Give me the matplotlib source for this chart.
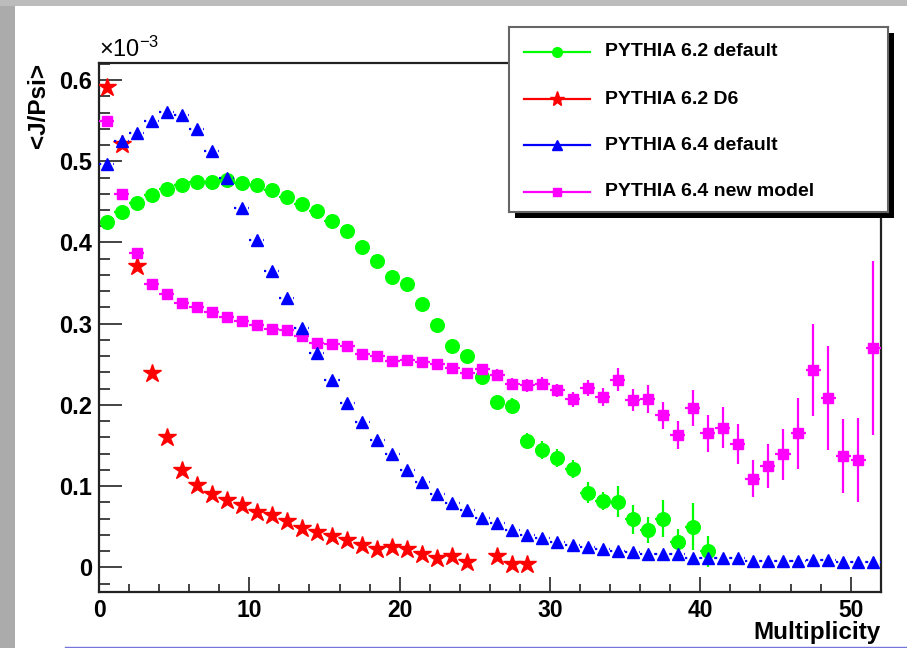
import numpy as np
import matplotlib
matplotlib.use("Agg")
import matplotlib.pyplot as plt
from matplotlib.ticker import MultipleLocator, FuncFormatter
from matplotlib.patches import Rectangle
from matplotlib.lines import Line2D

plt.rcParams["font.family"] = ["Liberation Sans", "DejaVu Sans"]
plt.rcParams["mathtext.fontset"] = "custom"
plt.rcParams["mathtext.rm"] = "Liberation Sans"
plt.rcParams["mathtext.default"] = "regular"

# <J/Psi> per multiplicity bin, in units of 1e-3
SCALE = 1e-3
multiplicity = np.arange(0.5, 52.0, 1.0)          # bin centres, 52 bins of width 1
bin_half_width = 0.5

pythia62_default = [0.425, 0.438, 0.449, 0.459, 0.466, 0.471, 0.474, 0.474, 0.477, 0.473,
                    0.471, 0.465, 0.456, 0.447, 0.439, 0.427, 0.414, 0.394, 0.377, 0.358,
                    0.349, 0.324, 0.299, 0.273, 0.260, 0.234, 0.204, 0.199, 0.156, 0.144,
                    0.135, 0.121, 0.092, 0.082, 0.081, 0.059, 0.046, 0.060, 0.031, 0.050,
                    0.020]
pythia62_default_err = [0.003, 0.003, 0.003, 0.003, 0.003, 0.003, 0.003, 0.003, 0.003, 0.003,
                        0.003, 0.003, 0.003, 0.003, 0.003, 0.003, 0.003, 0.004, 0.004, 0.004,
                        0.004, 0.004, 0.005, 0.005, 0.005, 0.006, 0.008, 0.009, 0.010, 0.011,
                        0.011, 0.011, 0.013, 0.011, 0.019, 0.018, 0.016, 0.023, 0.016, 0.029,
                        0.019]

pythia62_d6 = [0.592, 0.521, 0.371, 0.239, 0.160, 0.120, 0.101, 0.090, 0.083, 0.077,
               0.068, 0.065, 0.057, 0.049, 0.044, 0.039, 0.034, 0.028, 0.022, 0.025,
               0.022, 0.016, 0.012, 0.014, 0.007, np.nan, 0.014, 0.004, 0.004]

pythia64_default = [0.497, 0.525, 0.535, 0.549, 0.561, 0.557, 0.540, 0.513, 0.479, 0.442,
                    0.403, 0.365, 0.332, 0.295, 0.264, 0.231, 0.202, 0.179, 0.157, 0.139,
                    0.120, 0.105, 0.090, 0.079, 0.070, 0.061, 0.054, 0.046, 0.040, 0.036,
                    0.031, 0.028, 0.025, 0.022, 0.020, 0.019, 0.017, 0.016, 0.016, 0.012,
                    0.012, 0.012, 0.012, 0.008, 0.008, 0.008, 0.008, 0.009, 0.009, 0.006,
                    0.007, 0.007]

pythia64_new = [0.550, 0.460, 0.387, 0.349, 0.336, 0.326, 0.321, 0.314, 0.308, 0.303,
                0.298, 0.293, 0.292, 0.285, 0.276, 0.275, 0.273, 0.263, 0.260, 0.254,
                0.255, 0.253, 0.251, 0.245, 0.239, 0.244, 0.237, 0.226, 0.224, 0.226,
                0.218, 0.207, 0.221, 0.210, 0.231, 0.206, 0.207, 0.187, 0.163, 0.196,
                0.165, 0.172, 0.152, 0.109, 0.125, 0.139, 0.165, 0.243, 0.209, 0.137,
                0.132, 0.270]
pythia64_new_err = [0.002, 0.002, 0.002, 0.003, 0.003, 0.003, 0.003, 0.003, 0.003, 0.003,
                    0.003, 0.003, 0.004, 0.004, 0.004, 0.004, 0.004, 0.005, 0.005, 0.005,
                    0.005, 0.005, 0.006, 0.006, 0.006, 0.007, 0.007, 0.007, 0.008, 0.008,
                    0.008, 0.009, 0.010, 0.011, 0.014, 0.014, 0.017, 0.017, 0.017, 0.022,
                    0.023, 0.025, 0.025, 0.023, 0.027, 0.031, 0.044, 0.057, 0.064, 0.046,
                    0.052, 0.107]

labels = ["PYTHIA 6.2 default", "PYTHIA 6.2 D6", "PYTHIA 6.4 default", "PYTHIA 6.4 new model"]
colors = ["#00ff00", "#ff0000", "#0000ff", "#ff00ff"]
markers = ["o", "*", "^", "s"]

W, H = 907, 648


def fx(px):
    return px / W


def fy(py):
    return 1 - py / H


fig = plt.figure(figsize=(W / 100, H / 100), dpi=100)
fig.patch.set_facecolor("white")

# slide frame around the canvas
fig.patches.append(Rectangle((0, 0), fx(15), 1, transform=fig.transFigure,
                             facecolor="#ababab", edgecolor="none", zorder=-1))
fig.patches.append(Rectangle((0, fy(6)), 1, 1 - fy(6), transform=fig.transFigure,
                             facecolor="#bcbcbc", edgecolor="none", zorder=-1))
fig.add_artist(Line2D([fx(65), 1], [fy(646.5), fy(646.5)], transform=fig.transFigure,
                      color="#7474dc", lw=1.0))

ax = fig.add_axes([fx(99), fy(591.7), fx(880.7) - fx(99), fy(62.7) - fy(591.7)])


def scaled(vals):
    return np.asarray(vals, dtype=float) * SCALE


# green: PYTHIA 6.2 default
n = len(pythia62_default)
ax.errorbar(multiplicity[:n], scaled(pythia62_default), xerr=bin_half_width,
            yerr=scaled(pythia62_default_err), fmt="o", color=colors[0], ms=9.8,
            elinewidth=1.6, capsize=0, zorder=2)

# red: PYTHIA 6.2 D6
n = len(pythia62_d6)
ax.plot(multiplicity[:n], scaled(pythia62_d6), linestyle="none", marker="*",
        color=colors[1], ms=13.5, zorder=3)

# magenta: PYTHIA 6.4 new model
ax.errorbar(multiplicity, scaled(pythia64_new), xerr=bin_half_width,
            yerr=scaled(pythia64_new_err), fmt="s", color=colors[3], ms=7,
            elinewidth=1.6, capsize=0, zorder=4)

# blue: PYTHIA 6.4 default, bin widths drawn dotted
eb = ax.errorbar(multiplicity, scaled(pythia64_default), xerr=bin_half_width,
                 fmt="^", color=colors[2], ms=8, elinewidth=1.6, capsize=0, zorder=5)
eb.lines[2][0].set_linestyle((0, (1, 2.2)))

ax.set_xlim(0, 52)
ax.set_ylim(-0.030 * SCALE, 0.6214 * SCALE)

ax.xaxis.set_major_locator(MultipleLocator(10))
ax.xaxis.set_minor_locator(MultipleLocator(2))
ax.yaxis.set_major_locator(MultipleLocator(0.1 * SCALE))
ax.yaxis.set_minor_locator(MultipleLocator(0.02 * SCALE))
ax.yaxis.set_major_formatter(FuncFormatter(lambda v, pos: f"{v / SCALE:g}"))

ax.tick_params(which="both", direction="in", top=False, right=False, width=1.2, color="#222222")
ax.tick_params(axis="y", which="major", length=16.5, pad=5, labelsize=17)
ax.tick_params(axis="y", which="minor", length=8)
ax.tick_params(axis="x", which="major", length=11, pad=5, labelsize=16.5)
ax.tick_params(axis="x", which="minor", length=5.5)
for lab in ax.get_xticklabels() + ax.get_yticklabels():
    lab.set_fontweight("bold")
for sp in ax.spines.values():
    sp.set_linewidth(1.6)
    sp.set_color("#222222")

ax.text(0.0, 1.002, r"$\times10^{-3}$", transform=ax.transAxes, ha="left", va="bottom",
        fontsize=17)

ax.set_ylabel("<J/Psi>", fontsize=17.5, fontweight="bold", loc="top")
ax.yaxis.set_label_coords(-0.0625, 1.0)
ax.set_xlabel("Multiplicity", fontsize=17.5, fontweight="bold", loc="right")
ax.xaxis.set_label_coords(1.0, -0.056)

# legend box with drop shadow
fig.patches.append(Rectangle((fx(515), fy(218)), fx(894) - fx(515), fy(33) - fy(218),
                             transform=fig.transFigure, facecolor="black",
                             edgecolor="none", zorder=2.5))
lax = fig.add_axes([fx(509), fy(212), fx(888) - fx(509), fy(27) - fy(212)])
lax.set_zorder(3)
lax.set_xlim(0, 379)
lax.set_ylim(185, 0)
lax.set_xticks([])
lax.set_yticks([])
for sp in lax.spines.values():
    sp.set_linewidth(1.5)
    sp.set_color("#666666")

legend_ms = [7, 11, 6.5, 5.5]
row_y = [24.7, 72, 118, 164.7]
for lab, col, mk, ms, yy in zip(labels, colors, markers, legend_ms, row_y):
    lax.plot([15, 81], [yy, yy], color=col, lw=1.6)
    lax.plot([48], [yy], marker=mk, color=col, ms=ms)
    lax.text(96, yy, lab, ha="left", va="center", fontsize=14, fontweight="bold")

fig.savefig("out.png", dpi=100)
